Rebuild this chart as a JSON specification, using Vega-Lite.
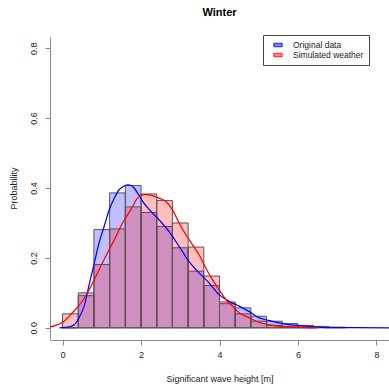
{
  "$schema": "https://vega.github.io/schema/vega-lite/v6.json",
  "width": 339,
  "height": 302,
  "autosize": {"type": "none"},
  "padding": {"left": 50, "top": 37, "right": 0, "bottom": 47},
  "background": "white",
  "config": {"view": {"stroke": null}, "font": "Liberation Sans"},
  "title": {"text": "Winter", "fontSize": 11, "fontWeight": "bold", "font": "Liberation Sans", "color": "#000", "anchor": "middle", "frame": "group", "offset": 17},
  "datasets": {
    "hist": [
      {"series": "Original data", "bin_start": 0.0, "bin_end": 0.4, "density": 0.0},
      {"series": "Original data", "bin_start": 0.4, "bin_end": 0.8, "density": 0.1},
      {"series": "Original data", "bin_start": 0.8, "bin_end": 1.2, "density": 0.281},
      {"series": "Original data", "bin_start": 1.2, "bin_end": 1.6, "density": 0.386},
      {"series": "Original data", "bin_start": 1.6, "bin_end": 2.0, "density": 0.407},
      {"series": "Original data", "bin_start": 2.0, "bin_end": 2.4, "density": 0.33},
      {"series": "Original data", "bin_start": 2.4, "bin_end": 2.8, "density": 0.29},
      {"series": "Original data", "bin_start": 2.8, "bin_end": 3.2, "density": 0.229},
      {"series": "Original data", "bin_start": 3.2, "bin_end": 3.6, "density": 0.162},
      {"series": "Original data", "bin_start": 3.6, "bin_end": 4.0, "density": 0.121},
      {"series": "Original data", "bin_start": 4.0, "bin_end": 4.4, "density": 0.069},
      {"series": "Original data", "bin_start": 4.4, "bin_end": 4.8, "density": 0.057},
      {"series": "Original data", "bin_start": 4.8, "bin_end": 5.2, "density": 0.033},
      {"series": "Original data", "bin_start": 5.2, "bin_end": 5.6, "density": 0.019},
      {"series": "Original data", "bin_start": 5.6, "bin_end": 6.0, "density": 0.012},
      {"series": "Original data", "bin_start": 6.0, "bin_end": 6.4, "density": 0.007},
      {"series": "Original data", "bin_start": 6.4, "bin_end": 6.8, "density": 0.004},
      {"series": "Original data", "bin_start": 6.8, "bin_end": 7.2, "density": 0.002},
      {"series": "Simulated weather", "bin_start": 0.0, "bin_end": 0.4, "density": 0.04},
      {"series": "Simulated weather", "bin_start": 0.4, "bin_end": 0.8, "density": 0.092},
      {"series": "Simulated weather", "bin_start": 0.8, "bin_end": 1.2, "density": 0.181},
      {"series": "Simulated weather", "bin_start": 1.2, "bin_end": 1.6, "density": 0.283},
      {"series": "Simulated weather", "bin_start": 1.6, "bin_end": 2.0, "density": 0.346},
      {"series": "Simulated weather", "bin_start": 2.0, "bin_end": 2.4, "density": 0.383},
      {"series": "Simulated weather", "bin_start": 2.4, "bin_end": 2.8, "density": 0.364},
      {"series": "Simulated weather", "bin_start": 2.8, "bin_end": 3.2, "density": 0.3},
      {"series": "Simulated weather", "bin_start": 3.2, "bin_end": 3.6, "density": 0.231},
      {"series": "Simulated weather", "bin_start": 3.6, "bin_end": 4.0, "density": 0.148},
      {"series": "Simulated weather", "bin_start": 4.0, "bin_end": 4.4, "density": 0.074},
      {"series": "Simulated weather", "bin_start": 4.4, "bin_end": 4.8, "density": 0.04},
      {"series": "Simulated weather", "bin_start": 4.8, "bin_end": 5.2, "density": 0.019},
      {"series": "Simulated weather", "bin_start": 5.2, "bin_end": 5.6, "density": 0.007},
      {"series": "Simulated weather", "bin_start": 5.6, "bin_end": 6.0, "density": 0.004},
      {"series": "Simulated weather", "bin_start": 6.0, "bin_end": 6.4, "density": 0.002}
    ],
    "dens": [
      {"series": "Original data", "x": -0.08, "density": 0},
      {"series": "Original data", "x": 0.17, "density": 0.003},
      {"series": "Original data", "x": 0.3, "density": 0.009},
      {"series": "Original data", "x": 0.42, "density": 0.029},
      {"series": "Original data", "x": 0.55, "density": 0.062},
      {"series": "Original data", "x": 0.68, "density": 0.124},
      {"series": "Original data", "x": 0.81, "density": 0.186},
      {"series": "Original data", "x": 0.93, "density": 0.243},
      {"series": "Original data", "x": 1.06, "density": 0.29},
      {"series": "Original data", "x": 1.19, "density": 0.338},
      {"series": "Original data", "x": 1.32, "density": 0.371},
      {"series": "Original data", "x": 1.44, "density": 0.395},
      {"series": "Original data", "x": 1.56, "density": 0.405},
      {"series": "Original data", "x": 1.68, "density": 0.409},
      {"series": "Original data", "x": 1.78, "density": 0.405},
      {"series": "Original data", "x": 1.91, "density": 0.386},
      {"series": "Original data", "x": 2.04, "density": 0.362},
      {"series": "Original data", "x": 2.21, "density": 0.338},
      {"series": "Original data", "x": 2.46, "density": 0.309},
      {"series": "Original data", "x": 2.71, "density": 0.276},
      {"series": "Original data", "x": 2.97, "density": 0.233},
      {"series": "Original data", "x": 3.22, "density": 0.19},
      {"series": "Original data", "x": 3.48, "density": 0.157},
      {"series": "Original data", "x": 3.73, "density": 0.129},
      {"series": "Original data", "x": 3.99, "density": 0.095},
      {"series": "Original data", "x": 4.24, "density": 0.076},
      {"series": "Original data", "x": 4.5, "density": 0.062},
      {"series": "Original data", "x": 4.75, "density": 0.047},
      {"series": "Original data", "x": 5.0, "density": 0.029},
      {"series": "Original data", "x": 5.26, "density": 0.021},
      {"series": "Original data", "x": 5.51, "density": 0.014},
      {"series": "Original data", "x": 5.77, "density": 0.009},
      {"series": "Original data", "x": 6.02, "density": 0.0066},
      {"series": "Original data", "x": 6.28, "density": 0.004},
      {"series": "Original data", "x": 6.53, "density": 0.002},
      {"series": "Original data", "x": 6.86, "density": 0.0005},
      {"series": "Original data", "x": 7.5, "density": 0.0002},
      {"series": "Original data", "x": 8.4, "density": 0},
      {"series": "Simulated weather", "x": -0.5, "density": 0},
      {"series": "Simulated weather", "x": -0.34, "density": 0.002},
      {"series": "Simulated weather", "x": -0.17, "density": 0.007},
      {"series": "Simulated weather", "x": 0.04, "density": 0.019},
      {"series": "Simulated weather", "x": 0.25, "density": 0.043},
      {"series": "Simulated weather", "x": 0.47, "density": 0.071},
      {"series": "Simulated weather", "x": 0.68, "density": 0.109},
      {"series": "Simulated weather", "x": 0.89, "density": 0.157},
      {"series": "Simulated weather", "x": 1.1, "density": 0.205},
      {"series": "Simulated weather", "x": 1.32, "density": 0.252},
      {"series": "Simulated weather", "x": 1.53, "density": 0.3},
      {"series": "Simulated weather", "x": 1.74, "density": 0.338},
      {"series": "Simulated weather", "x": 1.91, "density": 0.371},
      {"series": "Simulated weather", "x": 2.08, "density": 0.381},
      {"series": "Simulated weather", "x": 2.21, "density": 0.38},
      {"series": "Simulated weather", "x": 2.46, "density": 0.371},
      {"series": "Simulated weather", "x": 2.63, "density": 0.362},
      {"series": "Simulated weather", "x": 2.8, "density": 0.338},
      {"series": "Simulated weather", "x": 2.97, "density": 0.3},
      {"series": "Simulated weather", "x": 3.14, "density": 0.267},
      {"series": "Simulated weather", "x": 3.31, "density": 0.238},
      {"series": "Simulated weather", "x": 3.48, "density": 0.209},
      {"series": "Simulated weather", "x": 3.65, "density": 0.171},
      {"series": "Simulated weather", "x": 3.82, "density": 0.138},
      {"series": "Simulated weather", "x": 3.99, "density": 0.109},
      {"series": "Simulated weather", "x": 4.16, "density": 0.081},
      {"series": "Simulated weather", "x": 4.33, "density": 0.062},
      {"series": "Simulated weather", "x": 4.5, "density": 0.043},
      {"series": "Simulated weather", "x": 4.75, "density": 0.029},
      {"series": "Simulated weather", "x": 5.0, "density": 0.016},
      {"series": "Simulated weather", "x": 5.26, "density": 0.009},
      {"series": "Simulated weather", "x": 5.51, "density": 0.004},
      {"series": "Simulated weather", "x": 5.77, "density": 0.002},
      {"series": "Simulated weather", "x": 6.02, "density": 0.001},
      {"series": "Simulated weather", "x": 6.5, "density": 0}
    ]
  },
  "layer": [
    {
      "data": {"name": "hist"},
      "mark": {"type": "rect", "fillOpacity": 0.25, "stroke": "#555", "strokeWidth": 1},
      "encoding": {
        "x": {
          "field": "bin_start", "type": "quantitative",
          "scale": {"domain": [-0.32, 8.32], "nice": false, "zero": false},
          "title": "Significant wave height [m]",
          "axis": {
            "values": [0, 2, 4, 6, 8], "grid": false, "offset": 1,
            "domainColor": "#888", "tickColor": "#888", "tickSize": 5,
            "labelFontSize": 9, "labelColor": "#222", "labelPadding": 5, "labelFlush": false, "labelOverlap": false,
            "titleFontSize": 9, "titleFontWeight": "normal", "titleColor": "#222", "titlePadding": 15,
            "encode": {"domain": {"update": {"x": {"scale": "x", "value": 0}, "x2": {"scale": "x", "value": 8}}}}
          }
        },
        "x2": {"field": "bin_end"},
        "y": {
          "field": "density", "type": "quantitative",
          "scale": {"domain": [-0.032, 0.832], "nice": false, "zero": false},
          "title": "Probability",
          "axis": {
            "values": [0, 0.2, 0.4, 0.6, 0.8], "format": ".1f", "grid": false,
            "domainColor": "#888", "tickColor": "#888", "tickSize": 5,
            "labelAngle": -90, "labelAlign": "center", "labelBaseline": "bottom", "labelPadding": 7,
            "labelFontSize": 9, "labelColor": "#222", "labelFlush": false, "labelOverlap": false,
            "titleFontSize": 9, "titleFontWeight": "normal", "titleColor": "#222", "titlePadding": 11,
            "encode": {"domain": {"update": {"y": {"scale": "y", "value": 0}, "y2": {"scale": "y", "value": 0.8}}}}
          }
        },
        "y2": {"datum": 0},
        "fill": {
          "field": "series", "type": "nominal",
          "scale": {"domain": ["Original data", "Simulated weather"], "range": ["#0000ff", "#ff0000"]},
          "legend": {
            "title": null, "orient": "none", "legendX": 213, "legendY": -2,
            "padding": 5, "strokeColor": "#444", "fillColor": "white",
            "symbolType": "M-1,-0.42H1V0.42H-1Z", "symbolSize": 70,
            "symbolStrokeColor": "#333", "symbolStrokeWidth": 0.8, "symbolOffset": 5,
            "labelFontSize": 8.5, "labelFont": "Liberation Sans", "labelColor": "#222", "labelOffset": 10,
            "rowPadding": 0,
            "encode": {
              "symbols": {"update": {"fillOpacity": {"value": 0.5}, "opacity": {"value": 1}}}
            }
          }
        }
      }
    },
    {
      "data": {"name": "dens"},
      "mark": {"type": "line", "strokeWidth": 1.25, "clip": true, "interpolate": "monotone"},
      "encoding": {
        "x": {"field": "x", "type": "quantitative"},
        "y": {"field": "density", "type": "quantitative"},
        "stroke": {
          "field": "series", "type": "nominal",
          "scale": {"domain": ["Original data", "Simulated weather"], "range": ["#0000ff", "#ff0000"]},
          "legend": null
        }
      }
    }
  ]
}
